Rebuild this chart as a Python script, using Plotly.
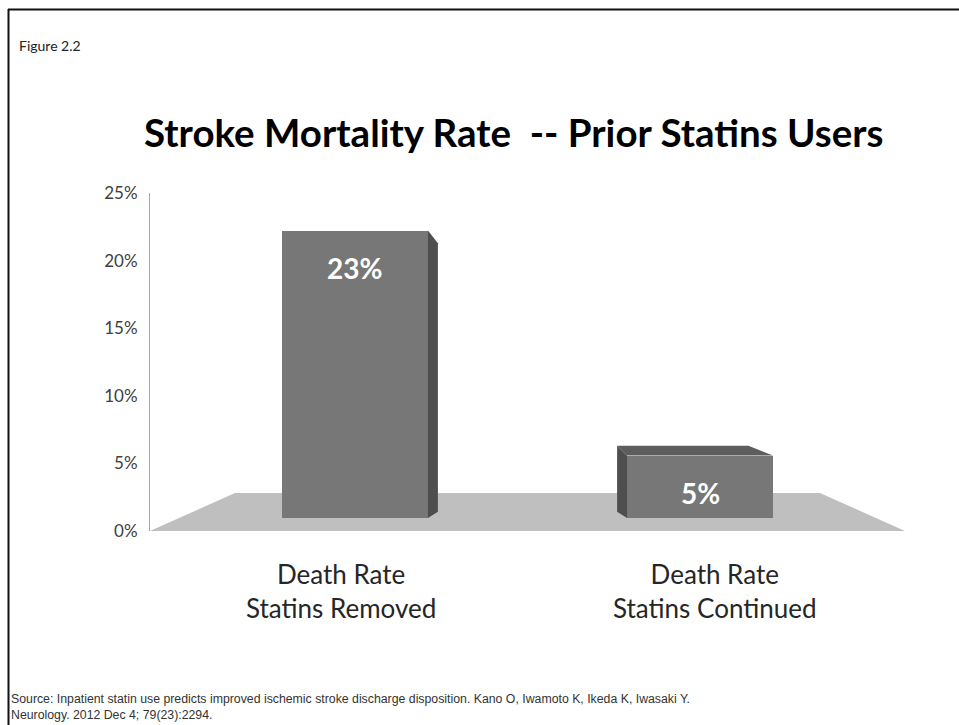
import plotly.graph_objects as go

# ---- data ----
categories = ["Death Rate<br>Statins Removed", "Death Rate<br>Statins Continued"]
values = [0.23, 0.05]
value_labels = ["23%", "5%"]
tick_vals = [0, 0.05, 0.10, 0.15, 0.20, 0.25]
tick_text = ["0%", "5%", "10%", "15%", "20%", "25%"]
title_text = "Stroke Mortality Rate&nbsp; -- Prior Statins Users"
figure_label = "Figure 2.2"
source_lines = [
    "Source: Inpatient statin use predicts improved ischemic stroke discharge disposition. Kano O, Iwamoto K, Ikeda K, Iwasaki Y.",
    "Neurology. 2012 Dec 4; 79(23):2294.",
]

# ---- styling / geometry parameters ----
W, H = 959, 725
FRONT = "#777777"
SIDE = "#4e4e4e"
TOP = "#5d5d5d"
FLOOR = "#bfbfbf"
BAR_W = 0.423
VP_X, VP_Y, DEPTH_K = 0.5, 0.128, 0.9   # pseudo-3D vanishing point (x units, y2 units)
BACK_BOTTOM = 0.005
FONT = "Lato, Calibri, sans-serif"

xs = list(range(len(categories)))
fig = go.Figure()

# side / top faces (pseudo 3D), derived from values
for x, v in zip(xs, values):
    xl, xr = x - BAR_W / 2, x + BAR_W / 2
    bx = lambda p: VP_X + (p - VP_X) * DEPTH_K
    by = VP_Y + (v - VP_Y) * DEPTH_K
    if x < VP_X:
        sx = [xr, bx(xr), bx(xr), xr, xr]
    else:
        sx = [xl, bx(xl), bx(xl), xl, xl]
    sy = [v, by, BACK_BOTTOM, 0, v]
    fig.add_trace(go.Scatter(x=sx, y=sy, yaxis="y2", mode="lines", fill="toself",
                             fillcolor=SIDE, line=dict(width=0, color=SIDE),
                             hoverinfo="skip", showlegend=False))
    if v < VP_Y:
        tx = [xl, bx(xl), bx(xr), xr, xl]
        ty = [v, by, by, v, v]
        fig.add_trace(go.Scatter(x=tx, y=ty, yaxis="y2", mode="lines", fill="toself",
                                 fillcolor=TOP, line=dict(width=0, color=TOP),
                                 hoverinfo="skip", showlegend=False))

# front faces
fig.add_trace(go.Bar(x=xs, y=values, width=BAR_W, yaxis="y2",
                     marker=dict(color=FRONT, line=dict(width=0)),
                     hoverinfo="skip", showlegend=False))

# invisible trace on main y axis so tick labels render
fig.add_trace(go.Scatter(x=[xs[0]], y=[0], mode="markers", marker=dict(opacity=0),
                         hoverinfo="skip", showlegend=False))

annotations = []
for x, v, lab in zip(xs, values, value_labels):
    annotations.append(dict(x=x, y=v, xref="x", yref="y2", yshift=-37, yanchor="middle",
                            text=f"<b>{lab}</b>", showarrow=False,
                            font=dict(family=FONT, size=28, color="white")))
for x, cat, sh in zip(xs, categories, [-14, 15]):
    annotations.append(dict(x=x, y=0, xref="x", yref="y", xshift=sh, yshift=-25, yanchor="top",
                            text=cat, showarrow=False, align="center",
                            font=dict(family=FONT, size=26, color="#262626")))

# paper coordinate helpers (plot area x 150..905, y 193..531 px)
px = lambda p: (p - 150) / 755
py = lambda p: (531 - p) / 338

annotations.append(dict(x=px(514), y=py(132), xref="paper", yref="paper", xanchor="center",
                        yanchor="middle", text=f"<b>{title_text}</b>", showarrow=False,
                        font=dict(family=FONT, size=38.5, color="#000000")))
annotations.append(dict(x=px(17), y=py(45), xref="paper", yref="paper", xanchor="left",
                        yanchor="middle", text=figure_label, showarrow=False,
                        font=dict(family=FONT, size=14, color="#222222")))
annotations.append(dict(x=px(9), y=py(707), xref="paper", yref="paper", xanchor="left",
                        yanchor="middle", text="<br>".join(source_lines), showarrow=False,
                        align="left",
                        font=dict(family="Liberation Sans, Arial, sans-serif", size=12.3, color="#333333")))

shapes = [
    # floor
    dict(type="path", xref="paper", yref="paper",
         path=f"M {px(150)} {py(531)} L {px(235)} {py(493)} L {px(820)} {py(493)} L {px(905)} {py(531)} Z",
         fillcolor=FLOOR, line=dict(width=0), layer="below"),
    # outer frame (top + left)
    dict(type="line", xref="paper", yref="paper", x0=px(8), y0=py(9.5), x1=px(959), y1=py(9.5),
         line=dict(color="#111111", width=2)),
    dict(type="line", xref="paper", yref="paper", x0=px(8.5), y0=py(9), x1=px(8.5), y1=py(725),
         line=dict(color="#111111", width=2)),
]

fig.update_layout(
    width=W, height=H,
    margin=dict(l=150, r=54, t=193, b=194),
    paper_bgcolor="white", plot_bgcolor="rgba(0,0,0,0)",
    xaxis=dict(range=[-0.594, 1.594], visible=False, fixedrange=True),
    yaxis=dict(range=[0, 0.25], tickvals=tick_vals, ticktext=tick_text,
               showline=True, linecolor="#a6a6a6", linewidth=1, showgrid=False,
               zeroline=False, ticks="", ticklabelstandoff=8,
               tickfont=dict(family=FONT, size=17, color="#404040")),
    yaxis2=dict(range=[-0.0104, 0.26], overlaying="y", visible=False),
    annotations=annotations, shapes=shapes,
    bargap=0, showlegend=False,
)

fig.write_html("out.html")
